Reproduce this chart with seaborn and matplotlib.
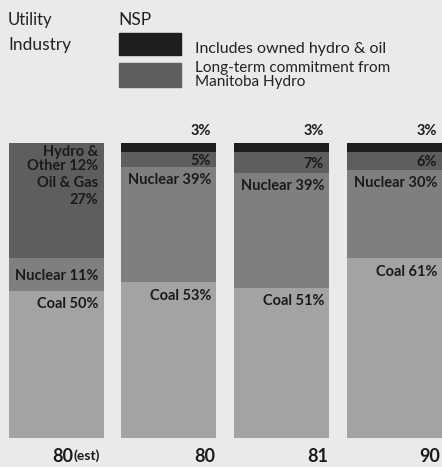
import matplotlib
matplotlib.use("Agg")
import matplotlib.pyplot as plt
import numpy as np
import pandas as pd
import seaborn as sns

# Energy sources by year, in percent of the total (bottom to top)
years = ["80", "80", "81", "90"]
year_notes = ["(est)", "", "", ""]
coal = [50, 53, 51, 61]
nuclear = [11, 39, 39, 30]
oil_gas = [27, 0, 0, 0]
hydro_other = [12, 0, 0, 0]
manitoba = [0, 5, 7, 6]
owned = [0, 3, 3, 3]

BG = "#eaeaea"
C_COAL = "#a3a3a3"
C_NUC = "#7f7f7f"
C_DARK = "#5e5e5e"
C_BLACK = "#1e1e1e"
INK = "#1a1a1a"

sns.set_theme(style="white")
plt.rcParams["font.family"] = ["Lato", "DejaVu Sans"]

W, H = 442, 467
fig = plt.figure(figsize=(W / 100, H / 100), dpi=100, facecolor=BG)
ax = fig.add_axes([8.5 / W, 29 / H, 433.5 / W, 295 / H], facecolor=BG)

idx = list(range(len(years)))
layers = [("coal", coal, C_COAL), ("nuclear", nuclear, C_NUC),
          ("oil_gas", oil_gas, C_DARK), ("hydro_other", hydro_other, C_DARK),
          ("manitoba", manitoba, C_DARK), ("owned", owned, C_BLACK)]

# cumulative tops for each layer
tops = {}
running = np.zeros(len(years))
for name, vals, _ in layers:
    running = running + np.array(vals, dtype=float)
    tops[name] = running.copy()

# draw from the top layer down so lower layers overlay the taller stacks
for name, vals, color in reversed(layers):
    df = pd.DataFrame({"pos": idx, "top": tops[name]})
    sns.barplot(data=df, x="pos", y="top", color=color, width=0.842,
                saturation=1, ax=ax, native_scale=True, linewidth=0,
                edgecolor="none")

ax.set_xlim(-0.421, 3.421)
ax.set_ylim(0, 100)
ax.set_axis_off()

half = 0.421
bold = dict(fontweight="bold", color=INK, fontsize=10.5, ha="right")


def label(i, y, text, dy, va="center", **kw):
    opts = dict(bold)
    opts.update(kw)
    ax.annotate(text, xy=(i + half, y), xytext=(-3.6, dy),
                textcoords="offset points", va=va, **opts)


for i in idx:
    coal_top = tops["coal"][i]
    nuc_top = tops["nuclear"][i]
    label(i, coal_top, f"Coal {coal[i]}%", -10)
    if oil_gas[i]:
        label(i, (coal_top + nuc_top) / 2, f"Nuclear {nuclear[i]}%", -1)
        label(i, tops["hydro_other"][i], f"Hydro &\nOther {hydro_other[i]}%", -1.5,
              va="top", linespacing=0.95)
        label(i, tops["oil_gas"][i], f"Oil & Gas\n{oil_gas[i]}%", 2,
              va="top", linespacing=1.35)
    else:
        label(i, nuc_top, f"Nuclear {nuclear[i]}%", -10)
        label(i, (nuc_top + tops["manitoba"][i]) / 2, f"{manitoba[i]}%", -1)
        label(i, tops["owned"][i], f"{owned[i]}%", 8.5)

# year labels under the bars
for i in idx:
    if year_notes[i]:
        ax.annotate(year_notes[i], xy=(i + half, 0), xytext=(-2.5, -13),
                    textcoords="offset points", ha="right", va="center",
                    fontsize=10, fontweight="bold", color=INK)
        ax.annotate(years[i], xy=(i + half, 0), xytext=(-22, -13),
                    textcoords="offset points", ha="right", va="center",
                    fontsize=13, fontweight="bold", color=INK)
    else:
        ax.annotate(years[i], xy=(i + half, 0), xytext=(-1, -13),
                    textcoords="offset points", ha="right", va="center",
                    fontsize=13, fontweight="bold", color=INK)


# key at the top
def px(x, y):
    return x / W, 1 - y / H


fig.text(*px(8, 20), "Utility", fontsize=12, color="#222222", va="center")
fig.text(*px(8, 45), "Industry", fontsize=12.5, color="#222222", va="center")
fig.text(*px(118, 20), "NSP", fontsize=12.5, color="#222222", va="center")
fig.patches.append(plt.Rectangle(px(119, 55), 62 / W, 22 / H, color=C_BLACK,
                                 transform=fig.transFigure, figure=fig))
fig.patches.append(plt.Rectangle(px(119, 87), 62 / W, 24 / H, color=C_DARK,
                                 transform=fig.transFigure, figure=fig))
fig.text(*px(195, 49), "Includes owned hydro & oil", fontsize=11.5,
         color="#222222", va="center")
fig.text(*px(195, 68), "Long-term commitment from", fontsize=11,
         color="#222222", va="center")
fig.text(*px(195, 82), "Manitoba Hydro", fontsize=11,
         color="#222222", va="center")

fig.savefig("out.png", dpi=100, facecolor=BG)
